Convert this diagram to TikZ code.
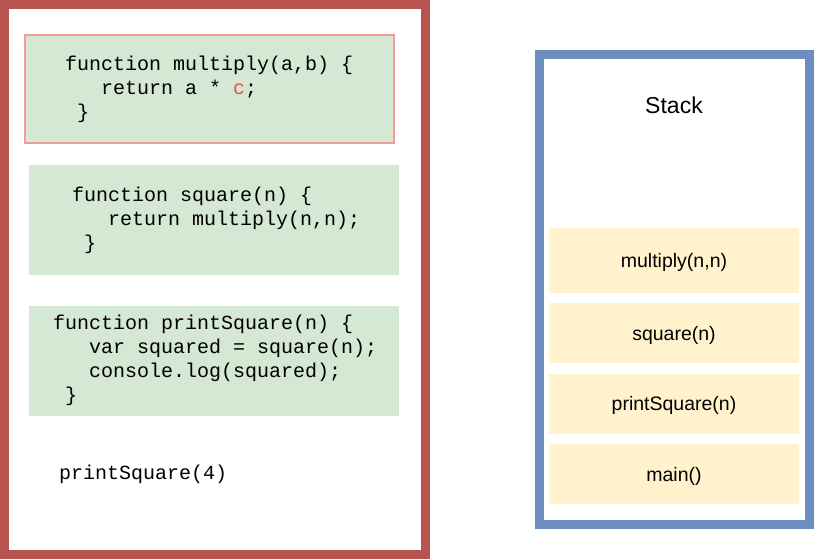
\documentclass[tikz,border=0pt]{standalone}
\usepackage{fontspec}
\setmainfont{Liberation Sans}
\setmonofont{Liberation Mono}
\usepackage{tikz}
\usetikzlibrary{positioning}
\definecolor{panelred}{HTML}{B85450}
\definecolor{panelblue}{HTML}{6C8EBF}
\definecolor{codegreen}{HTML}{D5E8D4}
\definecolor{framey}{HTML}{FFF2CC}
\definecolor{errline}{HTML}{F19C99}
\definecolor{errtext}{HTML}{E5534B}
\begin{document}
\begin{tikzpicture}[x=1pt,y=-1pt,panel/.style={draw,line width=9pt,rectangle,inner sep=0pt},codebox/.style={fill=codegreen,rectangle,inner sep=0pt,minimum width=370pt,minimum height=110pt},code/.style={font=\ttfamily\fontsize{20}{24}\selectfont,align=left,anchor=west,inner sep=0pt},frame/.style={fill=framey,rectangle,inner sep=0pt,minimum width=250pt,minimum height=60pt,text depth=0pt,font=\fontsize{19.5}{22}\selectfont}]
	\useasboundingbox (0,0) rectangle (814,559);
	\node[panel,draw=panelred,minimum width=421pt,minimum height=550pt]		(prog)	at (215,279.5)	{};
	\node[panel,draw=panelblue,minimum width=270pt,minimum height=470pt]	(stack)	at (674.5,289.5)	{};
	
	% code on the left
	\node[codebox,draw=errline,line width=2pt,minimum width=369pt,minimum height=108pt]	(mult)	at (209.5,89)	{};
	\node[codebox]			(sq)	[below=21pt of mult,xshift=4.5pt]		{};
	\node[codebox]			(psq)	[below=30pt of sq]						{};
	\node[code]				(multtxt)	at ([xshift=41pt]mult.west)	{function multiply(a,b) \{\\\ \ \ return a * \textcolor{errtext}{c};\\\ \}};
	\node[code]				(sqtxt)		at ([xshift=43pt]sq.west)	{function square(n) \{\\\ \ \ return multiply(n,n);\\\ \}};
	\node[code]				(psqtxt)	at ([xshift=24pt]psq.west)	{function printSquare(n) \{\\\ \ \ var squared = square(n);\\\ \ \ console.log(squared);\\\ \}};
	\node[code]				(call)		at (59,474)					{printSquare(4)};
	
	% call stack on the right
	\node[font=\fontsize{23}{26}\selectfont]	(title)	at (674,105)	{Stack};
	\node[frame]			(main)	at (674,474)				{main()};
	\node[frame]			(f3)	[above=10pt of main]		{printSquare(n)};
	\node[frame]			(f2)	[above=10pt of f3]			{square(n)};
	\node[frame,minimum height=65pt]	(f1)	[above=10pt of f2]	{multiply(n,n)};
\end{tikzpicture}
\end{document}
